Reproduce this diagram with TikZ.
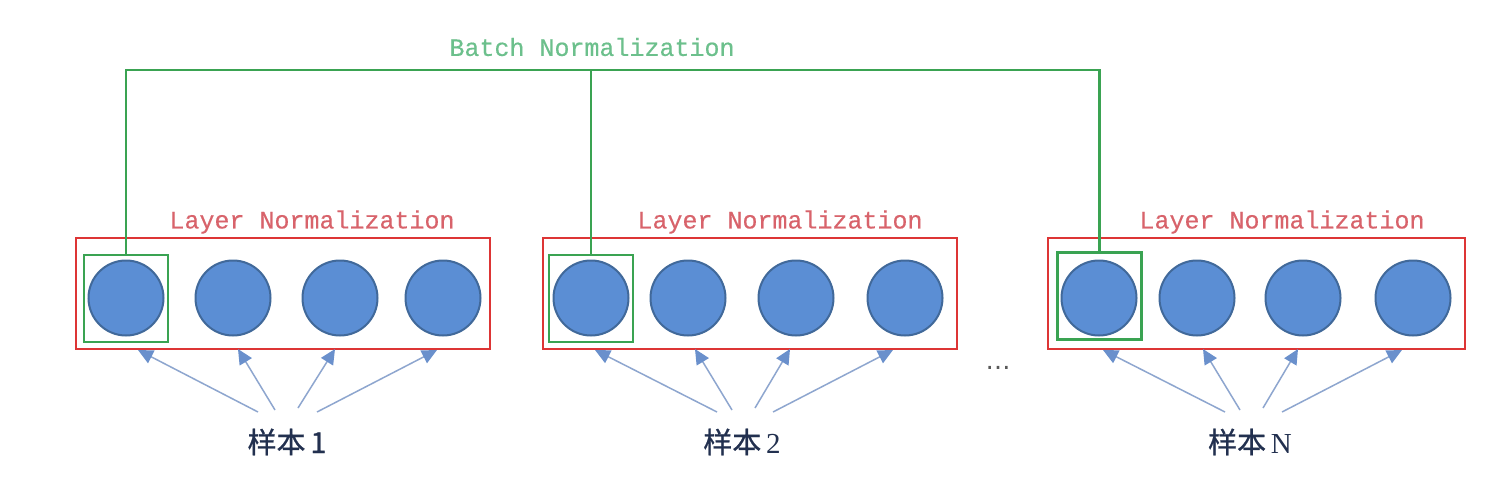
\documentclass[tikz,border=0pt]{standalone}
\usepackage{fontspec}
\setmonofont[FakeBold=0.3]{Liberation Mono}
\newfontfamily\cjk[FakeBold=0.8]{Noto Sans CJK SC}
\newfontfamily\serifn{Liberation Serif}
\newfontfamily\dejavu{DejaVu Sans}
\usetikzlibrary{arrows.meta}
\definecolor{redbox}{HTML}{DD3535}
\definecolor{greenln}{HTML}{3AA352}
\definecolor{lntext}{HTML}{D8636B}
\definecolor{bntext}{HTML}{6CC08C}
\definecolor{cfill}{HTML}{5B8ED4}
\definecolor{cdraw}{HTML}{41699A}
\definecolor{arrcol}{HTML}{8EA6CF}
\definecolor{arrhead}{HTML}{6A90CC}
\definecolor{labcol}{HTML}{22304F}
\tikzset{
  neuron/.style={circle,fill=cfill,draw=cdraw,line width=2pt,minimum size=75pt,inner sep=0pt},
  lnbox/.style={draw=redbox,line width=2.8pt,minimum height=111pt,inner sep=0pt},
  bnbox/.style={draw=greenln,line width=2.6pt,minimum width=84pt,minimum height=87pt,inner sep=0pt},
  bnline/.style={draw=greenln,line width=2.6pt},
  lntitle/.style={text=lntext,font=\ttfamily\fontsize{25}{25}\selectfont,inner sep=0pt},
  bntitle/.style={text=bntext,font=\ttfamily\fontsize{25}{25}\selectfont,inner sep=0pt},
  samplelab/.style={text=labcol,font=\cjk\fontsize{29}{29}\selectfont,inner sep=0pt},
  inarrow/.style={draw=arrcol,line width=1.5pt,-{Triangle[length=15pt,width=14pt,fill=arrhead,color=arrhead]}},
}
\begin{document}
\begin{tikzpicture}[x=1pt,y=-1pt]
\useasboundingbox[fill=white] (0,0) rectangle (1488,484);

% red layer-norm boxes
\node[lnbox,minimum width=414pt] (r1) at (283,293.5) {};
\node[lnbox,minimum width=414pt] (r2) at (750,293.5) {};
\node[lnbox,minimum width=417pt] (r3) at (1256.5,293.5) {};

% titles
\node[lntitle] (lt1) at (312,222) {Layer Normalization};
\node[lntitle] (lt2) at (780,222) {Layer Normalization};
\node[lntitle] (lt3) at (1282,222) {Layer Normalization};
\node[bntitle] (bt) at (592,47) {Batch Normalization};

% neurons
\foreach \g/\xa/\xb/\xc/\xd in {1/126/233/340/443, 2/591/688/796/905, 3/1099/1197/1303/1413}{
  \node[neuron] (n\g a) at (\xa,298) {};
  \node[neuron] (n\g b) at (\xb,298) {};
  \node[neuron] (n\g c) at (\xc,298) {};
  \node[neuron] (n\g d) at (\xd,298) {};
}

% green batch-norm boxes
\node[bnbox] (g1) at (126,298.5) {};
\node[bnbox] (g2) at (591,298.5) {};
\node[bnbox] (g3) at (1099.5,296) {};

\coordinate (top) at (592,70);
\draw[bnline] (g1.north) -- (g1.north |- top) -- (g3.north |- top) -- (g3.north);
\draw[bnline] (g2.north) -- (g2.north |- top);

% sample labels
\node[samplelab] (s1) at (287,442) {样本\,1};
\node[samplelab] (s2) at (742,442) {样本\,{\serifn 2}};
\node[samplelab] (s3) at (1250,442) {样本\,{\serifn N}};

% arrow coordinates
\foreach \g/\sa/\sb/\sc/\sd/\ta/\tb/\tc/\td in {
  1/258/275/298/317/138/238/335/437,
  2/717/732/755/773/595/695/790/893,
  3/1225/1240/1263/1282/1103/1203/1298/1402}{
  \coordinate (f\g a) at (\sa,412);
  \coordinate (f\g b) at (\sb,410);
  \coordinate (f\g c) at (\sc,408);
  \coordinate (f\g d) at (\sd,412);
  \coordinate (t\g a) at (\ta,350);
  \coordinate (t\g b) at (\tb,349);
  \coordinate (t\g c) at (\tc,349);
  \coordinate (t\g d) at (\td,350);
  \foreach \k in {a,b,c,d}{
    \draw[inarrow] (f\g\k) -- (t\g\k);
  }
}

% dots
\node[text=black!65,font=\dejavu\fontsize{25}{25}\selectfont,inner sep=0pt] (dots) at (998,368) {…};
\end{tikzpicture}
\end{document}
